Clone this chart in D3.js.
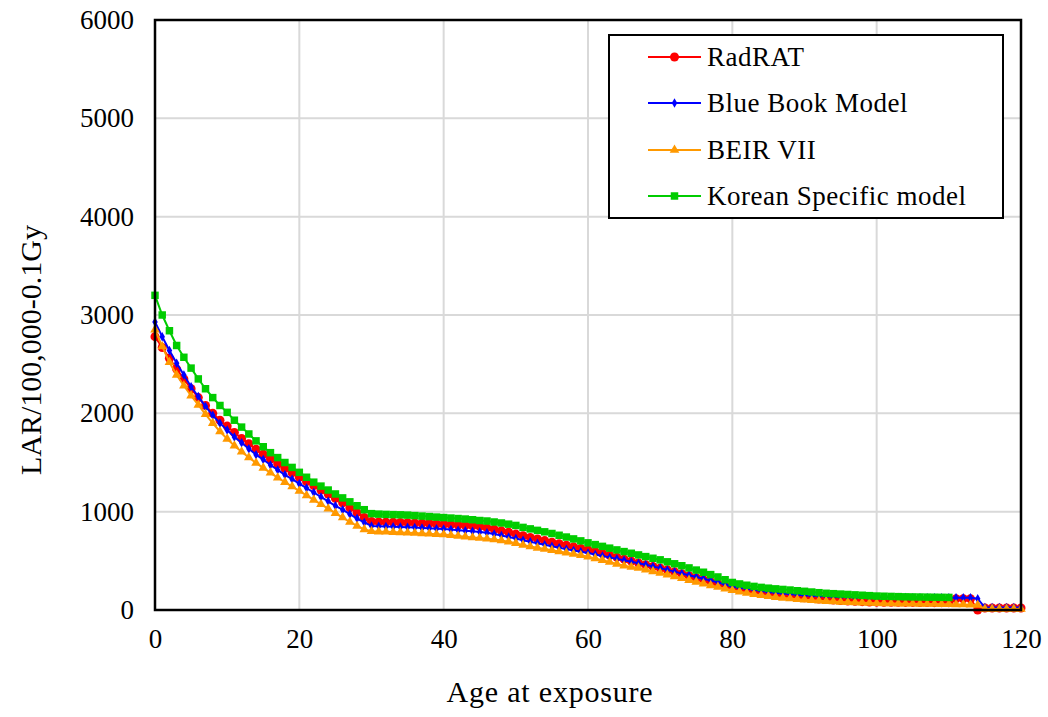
<!DOCTYPE html>
<html>
<head>
<meta charset="utf-8">
<script src="https://cdn.jsdelivr.net/npm/d3@7"></script>
<style>
  html, body { margin: 0; padding: 0; background: #fff; }
  svg { display: block; }
</style>
</head>
<body>
<svg id="chart" width="1048" height="717" style="font-family: 'Liberation Serif', 'Times New Roman', serif;"></svg>
<script>
// Age at exposure (years)
const ages = d3.range(0, 121);

// LAR per 100,000 persons exposed to 0.1 Gy, one value per age
const radrat = [
  2780,2670,2560,2450,2350,2250,2160,2080,2000,1930,1870,1805,1745,1690,1635,1585,1535,1485,1440,1395,1350,1305,1265,1220,1180,1135,1090,1040,990,940,900,
  896,894,892,890,888,885,882,879,875,872,868,864,860,855,850,
  835,820,805,790,772,755,738,722,706,690,674,658,642,626,612,594,575,556,537,517,497,478,460,443,426,
  408,388,368,348,328,308,288,268,248,228,212,198,186,175,165,156,148,140,132,125,118,112,106,101,96,92,88,85,82,80,
  79,78,78,77,77,76,76,75,75,75,
  115,115,115,0,20,20,20,20,20,20
];
const blueBook = [
  2930,2780,2640,2510,2390,2270,2170,2070,1980,1900,1830,1760,1700,1640,1580,1530,1475,1425,1375,1330,1285,1240,1195,1150,1105,1060,1020,975,930,890,855,
  852,850,847,844,841,838,835,831,827,823,819,812,805,800,793,
  786,772,758,743,727,710,693,678,663,648,633,619,605,592,580,565,550,535,520,505,490,476,460,443,426,
  408,390,372,354,336,318,300,282,260,236,225,215,205,194,184,175,168,162,156,151,146,142,139,136,133,131,130,129,128,127,
  127,126,126,126,125,125,125,125,125,125,
  125,125,125,115,25,25,25,25,25,25
];
const beir7 = [
  2850,2680,2520,2390,2280,2180,2085,1990,1900,1815,1740,1670,1610,1550,1495,1445,1395,1345,1300,1255,1210,1165,1120,1075,1030,985,940,895,855,820,800,
  797,795,792,789,786,783,779,775,771,767,760,752,745,738,732,
  725,716,706,695,680,660,645,632,620,607,595,582,569,556,543,525,507,488,469,450,437,428,410,393,376,
  358,340,322,304,286,268,250,233,216,200,186,173,161,150,140,131,123,116,110,104,99,94,90,86,82,79,76,73,71,69,
  67,66,65,64,63,62,61,60,59,58,
  56,55,54,50,10,10,10,10,10,10
];
const korean = [
  3200,3000,2840,2690,2570,2460,2350,2250,2160,2080,2010,1930,1860,1790,1720,1660,1600,1550,1500,1450,1400,1350,1300,1260,1220,1180,1140,1100,1060,1020,980,
  975,972,970,968,965,960,955,950,945,940,935,930,925,918,910,
  905,895,885,873,860,840,825,810,795,778,760,742,723,703,683,665,647,629,611,594,577,560,543,526,510,
  490,470,450,428,406,384,360,336,308,280,265,252,240,230,222,215,209,203,196,190,183,176,170,166,162,158,154,150,146,142,
  140,138,136,134,133,132,131,130,129,128,
  null,null,null,null,null,null,null,null,null,null
];

const seriesNames = ["RadRAT", "Blue Book Model", "BEIR VII", "Korean Specific model"];
const seriesColors = ["#ff0000", "#0000ff", "#ff9900", "#00cc00"];
const xTicks = [0, 20, 40, 60, 80, 100, 120];
const yTicks = [0, 1000, 2000, 3000, 4000, 5000, 6000];

const series = [
  { name: seriesNames[0], color: seriesColors[0], values: radrat,   symbol: d3.symbolCircle,   size: 64 },
  { name: seriesNames[1], color: seriesColors[1], values: blueBook, symbol: d3.symbolDiamond,  size: 26 },
  { name: seriesNames[2], color: seriesColors[2], values: beir7,    symbol: d3.symbolTriangle, size: 40 },
  { name: seriesNames[3], color: seriesColors[3], values: korean,   symbol: d3.symbolSquare,   size: 56 }
];

const FONT = "'Liberation Serif', 'Times New Roman', serif";
const svg = d3.select("#chart");
const plot = { left: 155, right: 1021, top: 20, bottom: 610 };

const x = d3.scaleLinear().domain([0, 120]).range([plot.left, plot.right]);
const y = d3.scaleLinear().domain([0, 6000]).range([plot.bottom, plot.top]);

// gridlines
const grid = svg.append("g");
grid.selectAll("line.h").data(yTicks.slice(1, -1)).join("line")
  .attr("x1", plot.left).attr("x2", plot.right)
  .attr("y1", d => y(d)).attr("y2", d => y(d))
  .attr("stroke", "#d9d9d9").attr("stroke-width", 2);
grid.selectAll("line.v").data(xTicks.slice(1, -1)).join("line")
  .attr("y1", plot.top).attr("y2", plot.bottom)
  .attr("x1", d => x(d)).attr("x2", d => x(d))
  .attr("stroke", "#d9d9d9").attr("stroke-width", 2);

// axes (labels only, no tick marks)
const xAxis = d3.axisBottom(x).tickValues(xTicks).tickFormat(d3.format("d")).tickSize(0).tickPadding(19);
const yAxis = d3.axisLeft(y).tickValues(yTicks).tickFormat(d3.format("d")).tickSize(0).tickPadding(21);

const gx = svg.append("g").attr("transform", `translate(0,${plot.bottom})`).call(xAxis);
const gy = svg.append("g").attr("transform", `translate(${plot.left},0)`).call(yAxis);
[gx, gy].forEach(g => {
  g.attr("font-family", null).attr("font-size", null);
  g.select(".domain").remove();
  g.selectAll("text")
    .style("font-family", FONT)
    .style("font-size", "27px")
    .attr("fill", "#000");
});

// series lines and markers
const line = d3.line()
  .defined(d => d.v !== null)
  .x(d => x(d.a))
  .y(d => y(d.v));

series.forEach(s => {
  const pts = ages.map((a, i) => ({ a, v: s.values[i] }));
  const g = svg.append("g");
  g.append("path").datum(pts)
    .attr("d", line)
    .attr("fill", "none")
    .attr("stroke", s.color)
    .attr("stroke-width", 2);
  g.selectAll("path.m").data(pts.filter(d => d.v !== null)).join("path")
    .attr("class", "m")
    .attr("transform", d => `translate(${x(d.a)},${y(d.v)})`)
    .attr("d", d3.symbol().type(s.symbol).size(s.size))
    .attr("fill", s.color);
});

// plot frame
svg.append("rect")
  .attr("x", plot.left).attr("y", plot.top)
  .attr("width", plot.right - plot.left).attr("height", plot.bottom - plot.top)
  .attr("fill", "none").attr("stroke", "#000").attr("stroke-width", 2.5);

// axis titles
svg.append("text")
  .attr("x", 550).attr("y", 702)
  .attr("text-anchor", "middle")
  .style("font-family", FONT)
  .style("font-size", "30px")
  .style("letter-spacing", "0.8px")
  .text("Age at exposure");
svg.append("text")
  .attr("transform", `translate(41,${(plot.top + plot.bottom) / 2 + 35}) rotate(-90)`)
  .attr("text-anchor", "middle")
  .style("font-family", FONT)
  .style("font-size", "30px")
  .text("LAR/100,000-0.1Gy");

// legend
const legend = svg.append("g");
legend.append("rect")
  .attr("x", 609).attr("y", 35).attr("width", 394).attr("height", 183)
  .attr("fill", "#fff").attr("stroke", "#000").attr("stroke-width", 2);
const rowY = [57, 103, 150, 196];
series.forEach((s, i) => {
  const ly = rowY[i];
  legend.append("line")
    .attr("x1", 648).attr("x2", 701).attr("y1", ly).attr("y2", ly)
    .attr("stroke", s.color).attr("stroke-width", 2);
  legend.append("path")
    .attr("transform", `translate(674.5,${ly})`)
    .attr("d", d3.symbol().type(s.symbol).size(s.size))
    .attr("fill", s.color);
  legend.append("text")
    .attr("x", 707).attr("y", ly + 9)
    .style("font-family", FONT)
    .style("font-size", "27px")
    .style("letter-spacing", "0.5px")
    .text(s.name);
});
</script>
</body>
</html>
